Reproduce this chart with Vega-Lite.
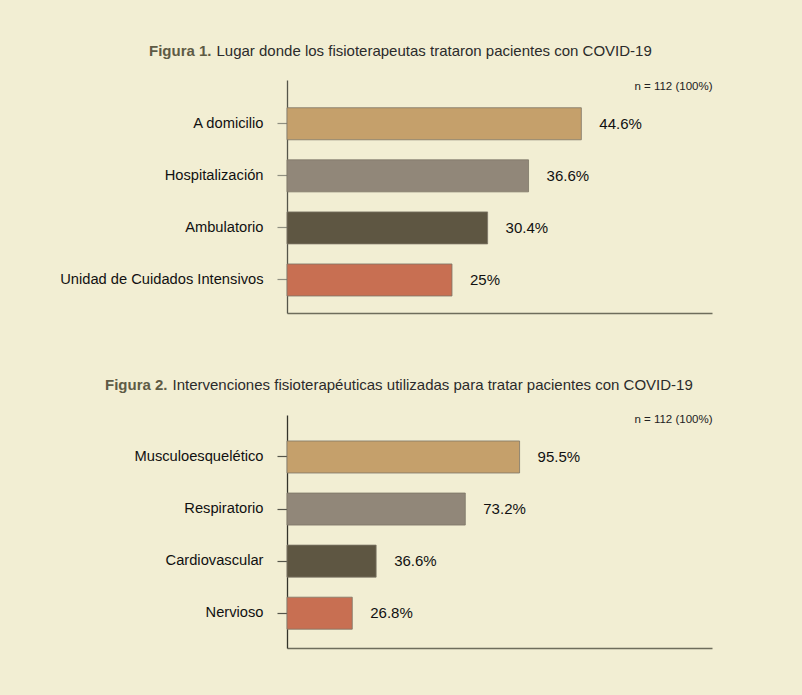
{
  "$schema": "https://vega.github.io/schema/vega-lite/v6.json",
  "background": "#f2eed3",
  "padding": {"left": 59, "top": 43, "right": 90, "bottom": 47},
  "spacing": 64,
  "config": {
    "font": "Liberation Sans",
    "view": {"stroke": null},
    "axis": {"grid": false}
  },
  "datasets": {
    "lugar": [
      {"categoria": "A domicilio", "pct": 44.6, "etiqueta": "44.6%", "orden": 1},
      {"categoria": "Hospitalización", "pct": 36.6, "etiqueta": "36.6%", "orden": 2},
      {"categoria": "Ambulatorio", "pct": 30.4, "etiqueta": "30.4%", "orden": 3},
      {"categoria": "Unidad de Cuidados Intensivos", "pct": 25, "etiqueta": "25%", "orden": 4}
    ],
    "intervencion": [
      {"categoria": "Musculoesquelético", "pct": 95.5, "etiqueta": "95.5%", "orden": 1},
      {"categoria": "Respiratorio", "pct": 73.2, "etiqueta": "73.2%", "orden": 2},
      {"categoria": "Cardiovascular", "pct": 36.6, "etiqueta": "36.6%", "orden": 3},
      {"categoria": "Nervioso", "pct": 26.8, "etiqueta": "26.8%", "orden": 4}
    ]
  },
  "vconcat": [
    {
      "width": 425,
      "height": 233,
      "title": {"text": "Figura 1.", "anchor": "start", "frame": "group", "dx": -138, "offset": -16, "fontSize": 15, "fontWeight": "bold", "color": "#5e5b45"},
      "data": {"name": "lugar"},
      "encoding": {
        "y": {
          "field": "categoria", "type": "nominal", "sort": {"field": "orden"},
          "scale": {"paddingInner": 0.385, "paddingOuter": 0.43, "align": 0.62},
          "axis": {
            "title": "Lugar donde los fisioterapeutas trataron pacientes con COVID-19",
            "titleAngle": 0, "titleX": -71, "titleY": -30, "titleAlign": "left", "titleBaseline": "middle",
            "titleFontSize": 15, "titleFontWeight": "normal", "titleColor": "#2b2b2b",
            "labelFontSize": 14.7, "labelColor": "#111111", "labelPadding": 14, "labelLimit": 400,
            "tickSize": 10, "tickColor": "#8f8f80", "tickWidth": 1.2,
            "domainColor": "#55554a", "domainWidth": 1.3
          }
        },
        "x": {
          "field": "pct", "type": "quantitative",
          "scale": {"domain": [0, 64.4], "nice": false},
          "axis": {
            "title": "n = 112 (100%)", "titleX": 425, "titleY": -227, "titleAlign": "right", "titleBaseline": "middle",
            "titleFontSize": 11.5, "titleFontWeight": "normal", "titleColor": "#222222",
            "labels": false, "ticks": false, "domainColor": "#6e6d5c", "domainWidth": 1.3
          }
        }
      },
      "layer": [
        {
          "mark": {"type": "bar", "stroke": "#7d7667", "strokeWidth": 1, "strokeOpacity": 0.8},
          "encoding": {
            "color": {"field": "orden", "type": "ordinal", "legend": null,
              "scale": {"domain": [1, 2, 3, 4], "range": ["#c5a06b", "#918779", "#5e5642", "#c86f52"]}}
          }
        },
        {
          "mark": {"type": "text", "align": "left", "dx": 18, "fontSize": 15, "color": "#111111"},
          "encoding": {"text": {"field": "etiqueta"}}
        }
      ]
    },
    {
      "width": 425,
      "height": 233,
      "title": {"text": "Figura 2.", "anchor": "start", "frame": "group", "dx": -182, "offset": -16, "fontSize": 15, "fontWeight": "bold", "color": "#5e5b45"},
      "data": {"name": "intervencion"},
      "encoding": {
        "y": {
          "field": "categoria", "type": "nominal", "sort": {"field": "orden"},
          "scale": {"paddingInner": 0.385, "paddingOuter": 0.43, "align": 0.58},
          "axis": {
            "title": "Intervenciones fisioterapéuticas utilizadas para tratar pacientes con COVID-19",
            "titleAngle": 0, "titleX": -115, "titleY": -31, "titleAlign": "left", "titleBaseline": "middle",
            "titleFontSize": 15, "titleFontWeight": "normal", "titleColor": "#2b2b2b",
            "labelFontSize": 14.7, "labelColor": "#111111", "labelPadding": 14, "labelLimit": 400,
            "tickSize": 10, "tickColor": "#55554a", "tickWidth": 1.2,
            "domainColor": "#33332a", "domainWidth": 1.3
          }
        },
        "x": {
          "field": "pct", "type": "quantitative",
          "scale": {"domain": [0, 174.5], "nice": false},
          "axis": {
            "title": "n = 112 (100%)", "titleX": 425, "titleY": -229, "titleAlign": "right", "titleBaseline": "middle",
            "titleFontSize": 11.5, "titleFontWeight": "normal", "titleColor": "#222222",
            "labels": false, "ticks": false, "domainColor": "#6e6d5c", "domainWidth": 1.3
          }
        }
      },
      "layer": [
        {
          "mark": {"type": "bar", "stroke": "#7d7667", "strokeWidth": 1, "strokeOpacity": 0.8},
          "encoding": {
            "color": {"field": "orden", "type": "ordinal", "legend": null,
              "scale": {"domain": [1, 2, 3, 4], "range": ["#c5a06b", "#918779", "#5e5642", "#c86f52"]}}
          }
        },
        {
          "mark": {"type": "text", "align": "left", "dx": 18, "fontSize": 15, "color": "#111111"},
          "encoding": {"text": {"field": "etiqueta"}}
        }
      ]
    }
  ]
}
